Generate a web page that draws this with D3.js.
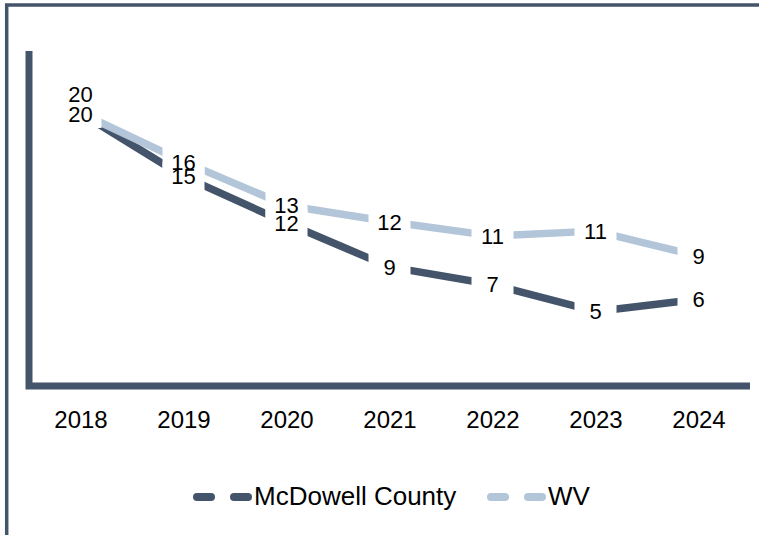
<!DOCTYPE html>
<html>
<head>
<meta charset="utf-8">
<script src="https://cdn.jsdelivr.net/npm/d3@7"></script>
<style>
  body { margin: 0; background: #fff; }
  svg { display: block; font-family: "Liberation Sans", Arial, sans-serif; }
</style>
</head>
<body>
<svg id="chart" width="759" height="535"></svg>
<script>
// chart values
var years = ["2018", "2019", "2020", "2021", "2022", "2023", "2024"]
var mcdowell = [20.0, 15.3, 11.85, 8.6, 7.3, 5.3, 6.2]
var wv = [20.0, 16.4, 13.15, 11.95, 10.9, 11.25, 9.4]
var seriesNames = ["McDowell County", "WV"]

var dark = "#44546a",
    light = "#b3c5d8";

var svg = d3.select("#chart")

// outer frame (only top and left edges fall inside the picture)
svg.append("rect")
  .attr("x", 6.7).attr("y", 5)
  .attr("width", 800).attr("height", 600)
  .attr("fill", "none")
  .attr("stroke", dark)
  .attr("stroke-width", 3.5)

var plot = {left: 29, right: 750, top: 51, bottom: 386}

var x = d3.scalePoint()
  .domain(years)
  .range([plot.left, plot.right])
  .padding(0.5)

var y = d3.scaleLinear()
  .domain([0, 25])
  .range([383, 45.5])

// plot frame lines
svg.append("path")
  .attr("d", "M" + plot.left + "," + plot.top + "V" + plot.bottom + "H" + plot.right)
  .attr("fill", "none")
  .attr("stroke", dark)
  .attr("stroke-width", 7)

// x axis labels
var xAxis = d3.axisBottom(x).tickSize(0).tickPadding(25)
var gx = svg.append("g")
  .attr("transform", "translate(0," + plot.bottom + ")")
  .call(xAxis)
gx.select(".domain").remove()
gx.selectAll("text")
  .attr("font-size", 24)
  .attr("font-family", "Liberation Sans, Arial, sans-serif")
  .attr("fill", "#000")

var series = [
  {name: seriesNames[0], values: mcdowell, color: dark, labelDy: [-19, 0, 0, 0, 0, 0, 0]},
  {name: seriesNames[1], values: wv, color: light, labelDy: [1, 0, 0, 0, 0, 0, 0]}
]

var line = d3.line()
  .x(function(d, i) { return x(years[i]); })
  .y(function(d) { return y(d); })

series.forEach(function(s) {
  svg.append("path")
    .datum(s.values)
    .attr("d", line)
    .attr("fill", "none")
    .attr("stroke", s.color)
    .attr("stroke-width", 7.5)
    .attr("stroke-linejoin", "round")
})

// white label boxes break the lines around each point
series.forEach(function(s) {
  svg.selectAll(null)
    .data(s.values)
    .enter().append("rect")
      .attr("x", function(d, i) { return x(years[i]) - 21; })
      .attr("y", function(d, i) { return y(d) + s.labelDy[i] - 14; })
      .attr("width", 42)
      .attr("height", 28)
      .attr("fill", "#fff")
})

series.forEach(function(s) {
  svg.selectAll(null)
    .data(s.values)
    .enter().append("text")
      .attr("x", function(d, i) { return x(years[i]); })
      .attr("y", function(d, i) { return y(d) + s.labelDy[i]; })
      .attr("dy", "0.36em")
      .attr("text-anchor", "middle")
      .attr("font-size", 22)
      .attr("fill", "#000")
      .text(function(d) { return d3.format(".0f")(d); })
})

// legend
var legend = [
  {name: seriesNames[0], color: dark, x: 193},
  {name: seriesNames[1], color: light, x: 487}
]
var legendY = 497
legend.forEach(function(l) {
  var g = svg.append("g")
  g.append("line")
    .attr("x1", l.x + 4).attr("x2", l.x + 18)
    .attr("y1", legendY).attr("y2", legendY)
    .attr("stroke", l.color).attr("stroke-width", 8).attr("stroke-linecap", "round")
  g.append("line")
    .attr("x1", l.x + 41).attr("x2", l.x + 55)
    .attr("y1", legendY).attr("y2", legendY)
    .attr("stroke", l.color).attr("stroke-width", 8).attr("stroke-linecap", "round")
  g.append("text")
    .attr("x", l.x + 61)
    .attr("y", legendY + 8)
    .attr("font-size", 26)
    .attr("fill", "#000")
    .text(l.name)
})
</script>
</body>
</html>
